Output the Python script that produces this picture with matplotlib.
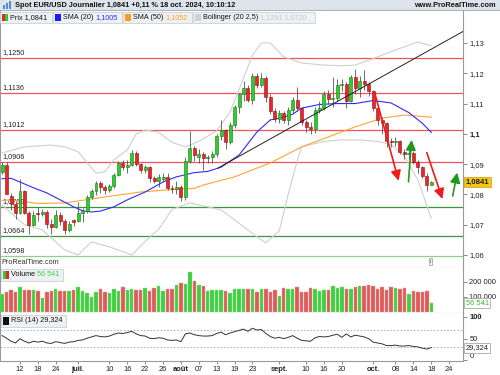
import matplotlib
matplotlib.use('Agg')
import matplotlib.pyplot as plt
from matplotlib.patches import Rectangle
import matplotlib.transforms as mtransforms
import numpy as np

plt.rcParams['font.family'] = ['Liberation Sans', 'DejaVu Sans']

# --- données ---
start_day = '2024-06-06'
opens = [1.0875, 1.0897, 1.0795, 1.0768, 1.0740, 1.0812, 1.0738, 1.0700, 1.0740, 1.0735,
         1.0743, 1.0702, 1.0693, 1.0732, 1.0712, 1.0683, 1.0715, 1.0712, 1.0740, 1.0745,
         1.0790, 1.0812, 1.0838, 1.0825, 1.0813, 1.0828, 1.0865, 1.0905, 1.0890, 1.0898,
         1.0938, 1.0900, 1.0882, 1.0890, 1.0855, 1.0845, 1.0852, 1.0858, 1.0820, 1.0818,
         1.0825, 1.0790, 1.0910, 1.0953, 1.0925, 1.0932, 1.0920, 1.0925, 1.0935, 1.0993,
         1.1012, 1.0972, 1.1028, 1.1088, 1.1130, 1.1152, 1.1112, 1.1192, 1.1160, 1.1184,
         1.1120, 1.1077, 1.1048, 1.1068, 1.1045, 1.1078, 1.1112, 1.1085, 1.1038, 1.1022,
         1.1015, 1.1080, 1.1085, 1.1132, 1.1115, 1.1118, 1.1162, 1.1163, 1.1110, 1.1188,
         1.1150, 1.1175, 1.1165, 1.1140, 1.1085, 1.1047, 1.1036, 1.0975, 1.0972, 1.0978,
         1.0940, 1.0935, 1.0937, 1.0908, 1.0890, 1.0862, 1.0832]
highs = [1.0906, 1.0906, 1.0805, 1.0775, 1.0852, 1.0815, 1.0745, 1.0745, 1.0760, 1.0752,
         1.0748, 1.0720, 1.0748, 1.0742, 1.0718, 1.0712, 1.0720, 1.0776, 1.0755, 1.0798,
         1.0818, 1.0845, 1.0845, 1.0830, 1.0835, 1.0870, 1.0910, 1.0912, 1.0912, 1.0948,
         1.0945, 1.0905, 1.0898, 1.0893, 1.0860, 1.0868, 1.0870, 1.0870, 1.0830, 1.0845,
         1.0830, 1.0925, 1.1008, 1.0960, 1.0950, 1.0940, 1.0930, 1.0945, 1.0998, 1.1045,
         1.1015, 1.1040, 1.1095, 1.1135, 1.1175, 1.1160, 1.1202, 1.1202, 1.1202, 1.1190,
         1.1130, 1.1085, 1.1080, 1.1075, 1.1090, 1.1120, 1.1155, 1.1090, 1.1045, 1.1040,
         1.1090, 1.1110, 1.1140, 1.1145, 1.1188, 1.1180, 1.1180, 1.1170, 1.1195, 1.1215,
         1.1190, 1.1210, 1.1170, 1.1145, 1.1090, 1.1055, 1.1040, 1.0985, 1.0990, 1.0980,
         1.0950, 1.0955, 1.0945, 1.0915, 1.0895, 1.0870, 1.0845]
lows = [1.0868, 1.0800, 1.0750, 1.0720, 1.0735, 1.0735, 1.0668, 1.0695, 1.0712, 1.0728,
        1.0690, 1.0670, 1.0690, 1.0700, 1.0668, 1.0675, 1.0695, 1.0710, 1.0710, 1.0738,
        1.0785, 1.0798, 1.0805, 1.0800, 1.0808, 1.0820, 1.0860, 1.0880, 1.0870, 1.0893,
        1.0895, 1.0870, 1.0870, 1.0842, 1.0838, 1.0825, 1.0845, 1.0815, 1.0805, 1.0800,
        1.0778, 1.0780, 1.0905, 1.0910, 1.0905, 1.0880, 1.0905, 1.0905, 1.0925, 1.0980,
        1.0950, 1.0965, 1.1020, 1.1070, 1.1110, 1.1105, 1.1100, 1.1150, 1.1155, 1.1105,
        1.1065, 1.1040, 1.1035, 1.1035, 1.1030, 1.1070, 1.1075, 1.1030, 1.1005, 1.1000,
        1.1002, 1.1070, 1.1080, 1.1100, 1.1090, 1.1110, 1.1140, 1.1085, 1.1105, 1.1130,
        1.1120, 1.1145, 1.1125, 1.1075, 1.1030, 1.1000, 1.0955, 1.0955, 1.0960, 1.0935,
        1.0918, 1.0915, 1.0900, 1.0870, 1.0855, 1.0810, 1.0830]
closes = [1.0897, 1.0802, 1.0768, 1.0740, 1.0812, 1.0738, 1.0700, 1.0733, 1.0735, 1.0743,
          1.0702, 1.0693, 1.0732, 1.0712, 1.0683, 1.0702, 1.0710, 1.0740, 1.0745, 1.0790,
          1.0812, 1.0838, 1.0825, 1.0813, 1.0828, 1.0865, 1.0905, 1.0890, 1.0898, 1.0938,
          1.0900, 1.0882, 1.0890, 1.0855, 1.0845, 1.0858, 1.0858, 1.0820, 1.0818, 1.0825,
          1.0790, 1.0910, 1.0953, 1.0930, 1.0932, 1.0920, 1.0925, 1.0935, 1.0993, 1.1012,
          1.0972, 1.1028, 1.1088, 1.1130, 1.1152, 1.1112, 1.1192, 1.1160, 1.1184, 1.1120,
          1.1077, 1.1048, 1.1068, 1.1045, 1.1078, 1.1112, 1.1085, 1.1038, 1.1022, 1.1015,
          1.1080, 1.1085, 1.1132, 1.1115, 1.1118, 1.1162, 1.1163, 1.1110, 1.1188, 1.1150,
          1.1175, 1.1165, 1.1140, 1.1085, 1.1047, 1.1036, 1.0978, 1.0972, 1.0978, 1.0940,
          1.0935, 1.0937, 1.0908, 1.0890, 1.0862, 1.0832, 1.0841]
volumes = [118, 133, 145, 129, 163, 143, 143, 143, 138, 93, 131, 136, 149, 136, 140, 140,
           143, 163, 138, 127, 96, 129, 154, 129, 127, 149, 136, 163, 143, 152, 143, 143,
           158, 140, 156, 171, 138, 152, 152, 176, 189, 185, 263, 207, 178, 171, 138, 143,
           143, 143, 138, 124, 154, 154, 154, 149, 149, 131, 149, 149, 131, 145, 107, 156,
           152, 152, 163, 129, 133, 156, 149, 138, 145, 145, 174, 158, 163, 149, 152, 163,
           171, 174, 178, 171, 152, 163, 145, 163, 158, 152, 160, 118, 138, 133, 133, 138,
           56.541]  # milliers
rsi = [57, 51, 44, 40, 50, 44, 40, 44, 42, 44, 40, 39, 43, 41, 39, 42, 43, 46, 47, 51,
       54, 57, 55, 54, 56, 60, 63, 62, 64, 67, 61, 57, 56, 51, 50, 52, 51, 47, 46, 47,
       43, 61, 63, 59, 57, 56, 56, 57, 62, 65, 59, 63, 66, 69, 72, 67, 74, 70, 71, 62,
       55, 51, 53, 50, 53, 57, 51, 46, 45, 44, 52, 55, 54, 55, 58, 60, 53, 61, 54, 58,
       56, 54, 50, 42, 40, 38, 34, 34, 35, 33, 33, 34, 32, 31, 28, 26, 29.324]

sma20_idx = [0, 2, 4, 7, 10, 13, 16, 18, 20, 22, 25, 28, 32, 36, 39, 43, 46, 49, 53, 57,
             60, 63, 65, 67, 71, 75, 79, 83, 87, 91, 94, 96]
sma20_val = [1.0852, 1.0853, 1.0841, 1.0822, 1.0805, 1.0782, 1.0759, 1.0746, 1.0742, 1.0745,
             1.0759, 1.0782, 1.0808, 1.0841, 1.0858, 1.0872, 1.0876, 1.0890, 1.0930, 1.1006,
             1.1046, 1.1055, 1.1065, 1.1085, 1.1097, 1.1100, 1.1100, 1.1110, 1.1102, 1.1070,
             1.1035, 1.1005]
sma50_idx = [0, 2, 8, 14, 20, 26, 31, 37, 43, 45, 52, 60, 67, 73, 79, 85, 90, 96]
sma50_val = [1.0780, 1.0782, 1.0770, 1.0772, 1.0785, 1.0798, 1.0808, 1.0815, 1.0820, 1.0831,
             1.0858, 1.0904, 1.0957, 1.0990, 1.1023, 1.1052, 1.1062, 1.1055]
bbup_idx = [0, 5, 11, 14, 17, 19, 21, 23, 25, 28, 30, 32, 35, 38, 41, 44, 48, 51, 54, 56,
            58, 60, 63, 67, 72, 76, 79, 84, 88, 93, 96]
bbup_val = [1.0937, 1.0957, 1.0963, 1.0957, 1.0941, 1.0905, 1.0870, 1.0875, 1.0914, 1.0947,
            1.1000, 1.1013, 1.1005, 1.0972, 1.0957, 1.0975, 1.1010, 1.1072, 1.1184, 1.1260,
            1.1300, 1.1300, 1.1254, 1.1234, 1.1227, 1.1225, 1.1227, 1.1254, 1.1277, 1.1303,
            1.1291]
bblo_idx = [0, 5, 9, 14, 17, 20, 24, 29, 32, 35, 38, 42, 49, 52, 57, 59, 62, 64, 66, 67,
            72, 76, 80, 84, 87, 90, 93, 96]
bblo_val = [1.0765, 1.0700, 1.0683, 1.0617, 1.0600, 1.0643, 1.0627, 1.0600, 1.0645, 1.0685,
            1.0750, 1.0772, 1.0749, 1.0716, 1.0660, 1.0640, 1.0680, 1.0800, 1.0910, 1.0957,
            1.0975, 1.0980, 1.0980, 1.0975, 1.0965, 1.0925, 1.0848, 1.0722]

red_levels = [1.1250, 1.1136, 1.1012, 1.0906]
green_levels = [1.0760, 1.0664]
base_level = 1.0598

trend_x = [48.3, 103.1]
trend_y = [1.0887, 1.1338]
arrows_red = [((83.3, 1.1138), (88.7, 1.0845)), ((95.0, 1.0938), (98.5, 1.0785))]
arrows_green = [((90.9, 1.0842), (91.6, 1.0980)), ((100.8, 1.0795), (101.8, 1.0872))]

tick_dates = ['2024-06-12', '2024-06-18', '2024-06-24', '2024-07-01', '2024-07-10',
              '2024-07-16', '2024-07-22', '2024-07-26', '2024-08-01', '2024-08-07',
              '2024-08-13', '2024-08-19', '2024-08-23', '2024-09-02', '2024-09-10',
              '2024-09-16', '2024-09-20', '2024-10-01', '2024-10-08', '2024-10-14',
              '2024-10-18', '2024-10-24']
tick_labels = ['12', '18', '24', 'juil.', '10', '16', '22', '26', 'août', '07', '13', '19',
               '23', 'sept.', '10', '16', '20', 'oct.', '08', '14', '18', '24']

# --- mise en page ---
W, H = 500, 375
fig = plt.figure(figsize=(5, 3.75), dpi=100)
fig.patch.set_facecolor('white')
renderer = fig.canvas.get_renderer()


def box(x0, y0, x1, y1):
    return [x0 / W, 1 - y1 / H, (x1 - x0) / W, (y1 - y0) / H]


ax = fig.add_axes(box(0, 11, 463, 267.5))
axv = fig.add_axes(box(0, 267.5, 463, 313), sharex=ax)
axr = fig.add_axes(box(0, 313, 463, 361), sharex=ax)

x = np.arange(len(closes))
o, h, l, c = map(np.array, (opens, highs, lows, closes))
up = c >= o
GREEN, RED = '#2ecc2e', '#e8262a'

for a in (ax, axv, axr):
    a.set_facecolor('white')
    for s in a.spines.values():
        s.set_color('#9a9a9a')
        s.set_linewidth(0.8)
    a.spines['top'].set_visible(False)
    a.yaxis.tick_right()
    a.tick_params(axis='y', length=3, width=0.6, color='#777777', pad=1.5,
                  labelsize=5.4, labelcolor='#222222')
    a.tick_params(axis='x', bottom=False, labelbottom=False)

ax.set_xlim(-0.47, 103.1)
ax.set_ylim(1.05587, 1.14056)


def level_label(lv):
    ax.text(0.006, lv + 0.0006, f'{lv:.4f}'.replace('.', ','), transform=ax.get_yaxis_transform(),
            fontsize=5.2, color='#222222', va='bottom', zorder=1)


# niveaux horizontaux
for lv in red_levels:
    ax.axhline(lv, color='#f05454', lw=0.9, zorder=1)
    level_label(lv)
for lv in green_levels:
    ax.axhline(lv, color='#3c963c', lw=0.9, zorder=1)
    level_label(lv)
ax.axhline(base_level, color='#8fd08f', lw=0.9, zorder=1)
level_label(base_level)

# bollinger + moyennes
ax.plot(bbup_idx, bbup_val, color='#cfcfcf', lw=0.8, zorder=2)
ax.plot(bblo_idx, bblo_val, color='#cfcfcf', lw=0.8, zorder=2)
ax.plot(sma50_idx, sma50_val, color='#ffa530', lw=0.8, zorder=2)
ax.plot(sma20_idx, sma20_val, color='#2b2bff', lw=0.8, zorder=2)

# bougies
ax.vlines(x, l, h, color='#555555', lw=0.6, zorder=3)
body_lo = np.minimum(o, c)
body_h = np.maximum(np.abs(c - o), 0.00012)
ax.bar(x, body_h, bottom=body_lo, width=0.66, color=np.where(up, GREEN, RED),
       edgecolor=np.where(up, '#147a14', '#8a1010'), linewidth=0.4, zorder=4)

# oblique + flèches
ax.plot(trend_x, trend_y, color='#222222', lw=0.7, zorder=5)
for arrows, col in ((arrows_red, '#ee1c1c'), (arrows_green, '#1f9a1f')):
    for (x0, y0), (x1, y1) in arrows:
        ax.annotate('', xy=(x1, y1), xytext=(x0, y0),
                    arrowprops=dict(arrowstyle='-|>,head_length=0.6,head_width=0.3', color=col,
                                    lw=1.2, shrinkA=0, shrinkB=0), zorder=6)

yt = [1.06, 1.07, 1.08, 1.09, 1.10, 1.11, 1.12, 1.13]
ax.set_yticks(yt)
ax.set_yticklabels([f'{v:.2f}'.replace('.', ',') if v != 1.10 else '1,1' for v in yt])
for t in ax.get_yticklabels():
    if t.get_text() == '1,1':
        t.set_fontweight('bold')

yx = mtransforms.blended_transform_factory(ax.transAxes, ax.transData)
ax.text(1.006, c[-1], '1,0841', transform=yx, fontsize=5.6, fontweight='bold', va='center',
        ha='left', color='#222222',
        bbox=dict(boxstyle='square,pad=0.25', fc='#f5c516', ec='#c9a000', lw=0.5), zorder=10)
ax.text(0.004, 0.004, 'ProRealTime.com', transform=ax.transAxes, fontsize=5.2, color='#333333',
        va='bottom', ha='left')
ax.text(0.93, 0.015, 'i', transform=ax.transAxes, fontsize=4.5, color='#555555', va='bottom',
        ha='center', bbox=dict(boxstyle='square,pad=0.15', fc='#f4f4f4', ec='#999999', lw=0.5))

# volume
vol = np.array(volumes) * 1000
axv.bar(x, vol, width=0.78, color=np.where(up, '#3fd03f', '#e05a5a'),
        edgecolor=np.where(up, '#8de08d', '#f0a0a0'), linewidth=0.3, zorder=3)
axv.set_ylim(-8700, 294700)
axv.set_yticks([100000, 200000])
axv.set_yticklabels(['100 000', '200 000'])
vx = mtransforms.blended_transform_factory(axv.transAxes, axv.transData)
axv.text(1.006, vol[-1], '56 541', transform=vx, fontsize=5.4, va='center', ha='left',
         color='#2fbf2f', bbox=dict(boxstyle='square,pad=0.2', fc='white', ec='#999999', lw=0.5),
         zorder=10)

# RSI
axr.plot(x, rsi, color='#333333', lw=0.7, zorder=3)
axr.axhline(70, color='#aaaaaa', lw=0.6, ls=(0, (2, 2)))
axr.axhline(30, color='#aaaaaa', lw=0.6, ls=(0, (2, 2)))
axr.set_ylim(-1.6, 109.2)
axr.set_yticks([0, 50, 100])
axr.set_yticklabels(['0', '50', '100'])
for t in axr.get_yticklabels():
    if t.get_text() == '100':
        t.set_fontweight('bold')
    if t.get_text() == '0':
        t.set_va('bottom')
rx = mtransforms.blended_transform_factory(axr.transAxes, axr.transData)
axr.text(1.006, rsi[-1], '29,324', transform=rx, fontsize=5.4, va='center', ha='left',
         color='#222222', bbox=dict(boxstyle='square,pad=0.2', fc='white', ec='#999999', lw=0.5),
         zorder=10)

tick_pos = [np.busday_count(start_day, d) for d in tick_dates]
axr.set_xticks(tick_pos)
axr.set_xticklabels(tick_labels)
axr.tick_params(axis='x', bottom=True, labelbottom=True, length=2, width=0.6, color='#777777',
                labelsize=5.4, labelcolor='#222222', pad=1.5)
for t in axr.get_xticklabels():
    if t.get_text() in ('juil.', 'août', 'sept.', 'oct.'):
        t.set_fontweight('bold')


# légendes des panneaux
def tag(x0, y0, x1, y1, parts, icon):
    fig.patches.append(Rectangle((x0 / W, 1 - y1 / H), (x1 - x0) / W, (y1 - y0) / H,
                                 transform=fig.transFigure, fc='#eef1f4', ec='#c3cad1', lw=0.5,
                                 zorder=20))
    ix = x0 + 2
    for k, col in enumerate(icon):
        fig.patches.append(Rectangle(((ix + k * 6 / len(icon)) / W, 1 - (y1 - 2) / H),
                                     6 / len(icon) / W, (y1 - y0 - 4) / H,
                                     transform=fig.transFigure, fc=col, ec='none', zorder=21))
    tx = x0 + 10
    for txt, col in parts:
        t = fig.text(tx / W, 1 - (y0 + y1) / 2 / H, txt, fontsize=5.2, color=col, va='center',
                     ha='left', zorder=22)
        tx += t.get_window_extent(renderer=renderer).width


# barre de titre
fig.patches.append(Rectangle((0, 1 - 11 / H), 1, 11 / H, transform=fig.transFigure,
                             fc='#dde4ea', ec='none', zorder=19))
fig.patches.append(Rectangle((0, 1 - 11 / H), 1, 0.6 / H, transform=fig.transFigure,
                             fc='#a9b3bc', ec='none', zorder=19))
for k, hh in enumerate([4, 6, 8]):
    fig.patches.append(Rectangle(((3 + k * 3) / W, 1 - 9 / H), 1.6 / W, hh / H,
                                 transform=fig.transFigure, fc='#4a90d9', ec='none', zorder=20))
fig.text(15 / W, 1 - 5.5 / H, 'Spot EUR/USD Journalier 1,0841 +0,11 % 18 oct. 2024, 10:10:12',
         fontsize=5.3, fontweight='bold', color='#111111', va='center', ha='left', zorder=22)
fig.text(496 / W, 1 - 5.5 / H, 'www.ProRealTime.com', fontsize=5.3, fontweight='bold',
         color='#111111', va='center', ha='right', zorder=22)

tag(0, 12, 52, 22.5, [('Prix 1,0841', '#111111')], ['#e8262a', '#2ecc2e'])
tag(53, 12, 122, 22.5, [('SMA (20) ', '#111111'), ('1,1005', '#2b2bff')], ['#1a1aff'])
tag(123, 12, 192, 22.5, [('SMA (50) ', '#111111'), ('1,1052', '#ff9a1a')], ['#ff9a1a'])
tag(193, 12, 315, 22.5, [('Bollinger (20 2,5) ', '#111111'), ('1,1291 1,0720', '#c8c8c8')],
    ['#d0d0d0'])
tag(1, 269, 63, 281, [('Volume ', '#111111'), ('56 541', '#3fd03f')], ['#2ecc2e', '#e8262a'])
tag(1, 315, 66, 327, [('RSI (14) 29,324', '#111111')], ['#111111'])

fig.savefig('out.png', dpi=100)
